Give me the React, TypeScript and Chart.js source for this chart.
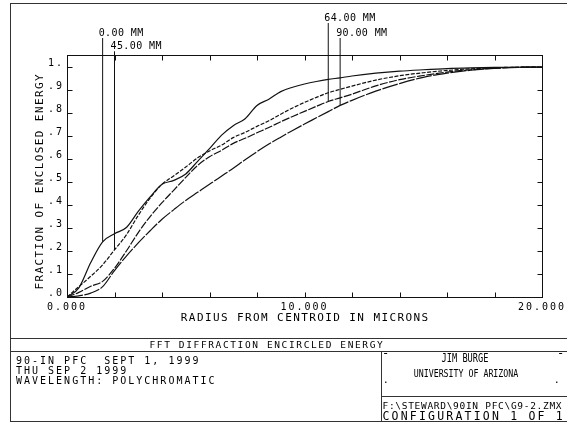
import React, { useEffect, useRef } from 'react';
import { Chart, registerables } from 'chart.js';

Chart.register(...registerables);

// ---------- data ----------
const radius = [0, 0.5, 1, 1.5, 2, 2.5, 3, 3.5, 4, 4.5, 5, 5.5, 6, 6.5, 7, 7.5, 8, 8.5, 9, 9.5, 10, 10.5, 11, 11.5, 12, 13, 14, 15, 16, 17, 18, 19, 20];
const ee0mm = [0, 0.04, 0.15, 0.24, 0.275, 0.302, 0.372, 0.435, 0.49, 0.507, 0.535, 0.59, 0.645, 0.703, 0.745, 0.775, 0.833, 0.86, 0.893, 0.912, 0.926, 0.937, 0.946, 0.953, 0.961, 0.973, 0.982, 0.988, 0.993, 0.996, 0.998, 0.999, 1.0];
const ee45mm = [0, 0.045, 0.09, 0.14, 0.205, 0.27, 0.355, 0.43, 0.49, 0.527, 0.565, 0.605, 0.635, 0.66, 0.693, 0.716, 0.742, 0.766, 0.795, 0.822, 0.846, 0.868, 0.888, 0.903, 0.917, 0.943, 0.962, 0.975, 0.985, 0.992, 0.997, 0.999, 1.0];
const ee64mm = [0, 0.02, 0.047, 0.068, 0.125, 0.2, 0.28, 0.35, 0.41, 0.465, 0.52, 0.572, 0.61, 0.637, 0.668, 0.69, 0.714, 0.737, 0.762, 0.785, 0.807, 0.829, 0.85, 0.866, 0.882, 0.918, 0.945, 0.963, 0.978, 0.988, 0.995, 0.999, 1.0];
const ee90mm = [0, 0.005, 0.017, 0.045, 0.115, 0.178, 0.235, 0.288, 0.338, 0.38, 0.42, 0.455, 0.49, 0.525, 0.56, 0.597, 0.632, 0.665, 0.695, 0.724, 0.752, 0.779, 0.806, 0.833, 0.855, 0.895, 0.928, 0.955, 0.973, 0.986, 0.994, 0.998, 1.0];
const fieldSeries = [ee0mm, ee45mm, ee64mm, ee90mm];
const fieldLabels = ['0.00 MM', '45.00 MM', '64.00 MM', '90.00 MM'];
const fieldMarkerRadius = [1.5, 2, 11, 11.5];

const xTickValues = [0, 2, 4, 6, 8, 10, 12, 14, 16, 18, 20];
const xTickLabels = ['0.000', '', '', '', '', '10.000', '', '', '', '', '20.000'];
const yTickValues = [0, 0.1, 0.2, 0.3, 0.4, 0.5, 0.6, 0.7, 0.8, 0.9, 1.0];
const yTickLabels = ['.0', '.1', '.2', '.3', '.4', '.5', '.6', '.7', '.8', '.9', '1.'];

const xAxisTitle = 'RADIUS FROM CENTROID IN MICRONS';
const yAxisTitle = 'FRACTION OF ENCLOSED ENERGY';
const plotTitle = 'FFT DIFFRACTION ENCIRCLED ENERGY';
const infoLines = ['90-IN PFC  SEPT 1, 1999', 'THU SEP 2 1999', 'WAVELENGTH: POLYCHROMATIC'];
const authorName = 'JIM BURGE';
const authorOrg = 'UNIVERSITY OF ARIZONA';
const fileName = 'F:\\STEWARD\\90IN PFC\\G9-2.ZMX';
const configText = 'CONFIGURATION 1 OF 1';

// ---------- styles ----------
const MONO = '"DejaVu Sans Mono", "Liberation Mono", monospace';
const DASHES = [[], [4, 1.5], [8, 1.5], [16, 1.5]];
const LABEL_ROWS = [17, 32, 45.3];
const FIELD_ROW = [1, 2, 0, 1];
const INK = '#111';
const FRAME = '#333';

function valueAt(series: number[], r: number): number {
  for (let i = 0; i < radius.length - 1; i++) {
    if (r >= radius[i] && r <= radius[i + 1]) {
      const t = (r - radius[i]) / (radius[i + 1] - radius[i]);
      return series[i] + t * (series[i + 1] - series[i]);
    }
  }
  return series[series.length - 1];
}

function Txt(props: { x: number; cap: number; size: number; spacing?: number; text: string }) {
  const { x, cap, size, spacing = 0, text } = props;
  return (
    <div
      style={{
        position: 'absolute',
        left: x,
        top: cap - 0.117 * size,
        fontFamily: MONO,
        fontSize: size,
        lineHeight: `${size}px`,
        letterSpacing: spacing,
        whiteSpace: 'pre',
        color: '#000',
      }}
    >
      {text}
    </div>
  );
}

function CTxt(props: { cx: number; cap: number; size: number; scaleX: number; text: string }) {
  const { cx, cap, size, scaleX, text } = props;
  return (
    <div
      style={{
        position: 'absolute',
        left: cx - 150,
        width: 300,
        top: cap - 0.117 * size,
        textAlign: 'center',
        fontFamily: MONO,
        fontSize: size,
        lineHeight: `${size}px`,
        whiteSpace: 'pre',
        color: '#000',
        transform: `scaleX(${scaleX})`,
        transformOrigin: '50% 50%',
      }}
    >
      {text}
    </div>
  );
}

function Line(props: { x: number; y: number; w: number; h: number }) {
  return <div style={{ position: 'absolute', left: props.x, top: props.y, width: props.w, height: props.h, background: FRAME }} />;
}

export default function App() {
  const ref = useRef<HTMLCanvasElement>(null);

  useEffect(() => {
    const canvas = ref.current;
    if (!canvas) return;

    const decor = {
      id: 'zemaxDecor',
      beforeDraw(chart: any) {
        chart.ctx.letterSpacing = '2px';
      },
      afterDatasetsDraw(chart: any) {
        const ctx = chart.ctx;
        const a = chart.chartArea;
        const xs = chart.scales.x;
        const ys = chart.scales.y;
        ctx.save();
        ctx.strokeStyle = INK;
        ctx.lineWidth = 1;
        ctx.setLineDash([]);
        const L = Math.round(a.left) + 0.5;
        const R = Math.round(a.right) + 0.5;
        const T = Math.round(a.top) + 0.5;
        const B = Math.round(a.bottom) + 0.5;
        ctx.strokeRect(L, T, R - L, B - T);
        ctx.beginPath();
        xTickValues.forEach((v) => {
          const px = Math.round(xs.getPixelForValue(v)) + 0.5;
          ctx.moveTo(px, B);
          ctx.lineTo(px, B - 5);
          ctx.moveTo(px, T);
          ctx.lineTo(px, T + 5);
        });
        yTickValues.forEach((v) => {
          const py = Math.round(ys.getPixelForValue(v)) + 0.5;
          ctx.moveTo(L, py);
          ctx.lineTo(L + 5, py);
          ctx.moveTo(R, py);
          ctx.lineTo(R - 5, py);
        });
        ctx.stroke();
        ctx.restore();
      },
      afterDraw(chart: any) {
        const ctx = chart.ctx;
        const a = chart.chartArea;
        const xs = chart.scales.x;
        const ys = chart.scales.y;
        ctx.save();
        ctx.fillStyle = '#000';
        ctx.strokeStyle = INK;
        ctx.lineWidth = 1;
        ctx.setLineDash([]);

        // axis titles
        ctx.font = `11px ${MONO}`;
        ctx.letterSpacing = '1.4px';
        ctx.textAlign = 'center';
        ctx.textBaseline = 'alphabetic';
        ctx.fillText(xAxisTitle, (a.left + a.right) / 2 + 0.7, a.bottom + 23.7);

        const yMid = (ys.getPixelForValue(0) + ys.getPixelForValue(1)) / 2;
        ctx.save();
        ctx.translate(a.left - 28, yMid);
        ctx.rotate(-Math.PI / 2);
        ctx.fillText(yAxisTitle, 0.7, 4);
        ctx.restore();

        // field markers
        ctx.font = `10px ${MONO}`;
        ctx.letterSpacing = '0.4px';
        ctx.textAlign = 'left';
        fieldLabels.forEach((lab, i) => {
          const r = fieldMarkerRadius[i];
          const v = valueAt(fieldSeries[i], r);
          const px = xs.getPixelForValue(r);
          const py = ys.getPixelForValue(v);
          const cy = LABEL_ROWS[FIELD_ROW[i]];
          ctx.fillText(lab, px - 4, cy + 3.65);
          ctx.beginPath();
          ctx.moveTo(px, cy + 6);
          ctx.lineTo(px, py);
          ctx.stroke();
        });
        ctx.restore();
        ctx.letterSpacing = '0px';
      },
    };

    const chart = new Chart(canvas, {
      type: 'line',
      data: {
        datasets: fieldSeries.map((s, i) => ({
          label: fieldLabels[i],
          data: radius.map((r, j) => ({ x: r, y: s[j] })),
          borderColor: INK,
          borderWidth: 1.2,
          borderDash: DASHES[i],
          pointRadius: 0,
          fill: false,
          cubicInterpolationMode: 'monotone' as const,
        })),
      },
      options: {
        responsive: false,
        animation: false,
        events: [],
        layout: { padding: { left: 42, right: 25, top: 55, bottom: 108 } },
        plugins: { legend: { display: false }, tooltip: { enabled: false } },
        scales: {
          x: {
            type: 'linear',
            min: 0,
            max: 20,
            grid: { display: false, drawTicks: false },
            border: { display: false },
            afterBuildTicks: (s: any) => {
              s.ticks = xTickValues.map((v) => ({ value: v }));
            },
            afterFit: (s: any) => {
              s.height = 20;
            },
            ticks: {
              autoSkip: false,
              maxRotation: 0,
              padding: 4,
              color: '#000',
              font: { family: MONO, size: 10 },
              callback: (_v: any, i: number) => xTickLabels[i],
            },
          },
          y: {
            type: 'linear',
            min: 0,
            max: 1.0522,
            grid: { display: false, drawTicks: false },
            border: { display: false },
            afterBuildTicks: (s: any) => {
              s.ticks = yTickValues.map((v) => ({ value: v }));
            },
            afterFit: (s: any) => {
              s.width = 25;
            },
            ticks: {
              autoSkip: false,
              padding: 3,
              labelOffset: -3.6,
              color: '#000',
              font: { family: MONO, size: 10 },
              callback: (_v: any, i: number) => yTickLabels[i],
            },
          },
        },
      },
      plugins: [decor],
    } as any);

    return () => chart.destroy();
  }, []);

  return (
    <div style={{ position: 'fixed', left: 0, top: 0, width: 567, height: 425, background: '#fff', overflow: 'hidden' }}>
      <canvas ref={ref} width={567} height={425} style={{ position: 'absolute', left: 0, top: 0, width: 567, height: 425 }} />
      {/* frame */}
      <Line x={10} y={3} w={600} h={1} />
      <Line x={10} y={3} w={1} h={419} />
      <Line x={10} y={421} w={600} h={1} />
      <Line x={10} y={338} w={600} h={1} />
      <Line x={10} y={351} w={600} h={1} />
      <Line x={381} y={351} w={1} h={70} />
      <Line x={381} y={396} w={230} h={1} />
      {/* title block */}
      <Txt x={149.5} cap={341.2} size={9.5} spacing={1.62} text={plotTitle} />
      {infoLines.map((t, i) => (
        <Txt key={i} x={16} cap={357.3 + i * 10} size={10} spacing={2} text={t} />
      ))}
      <CTxt cx={465} cap={352.3} size={13} scaleX={0.665} text={authorName} />
      <CTxt cx={465.8} cap={370} size={10} scaleX={0.826} text={authorOrg} />
      <div style={{ position: 'absolute', left: 382, top: 347, fontFamily: MONO, fontSize: 12, lineHeight: '12px' }}>-</div>
      <div style={{ position: 'absolute', left: 557, top: 347, fontFamily: MONO, fontSize: 12, lineHeight: '12px' }}>-</div>
      <div style={{ position: 'absolute', left: 382.8, top: 375, fontFamily: MONO, fontSize: 10, lineHeight: '10px' }}>.</div>
      <div style={{ position: 'absolute', left: 553.8, top: 375, fontFamily: MONO, fontSize: 10, lineHeight: '10px' }}>.</div>
      <Txt x={382.5} cap={401.7} size={9.5} spacing={0.7} text={fileName} />
      <Txt x={382.5} cap={412.3} size={11.5} spacing={2.2} text={configText} />
    </div>
  );
}
